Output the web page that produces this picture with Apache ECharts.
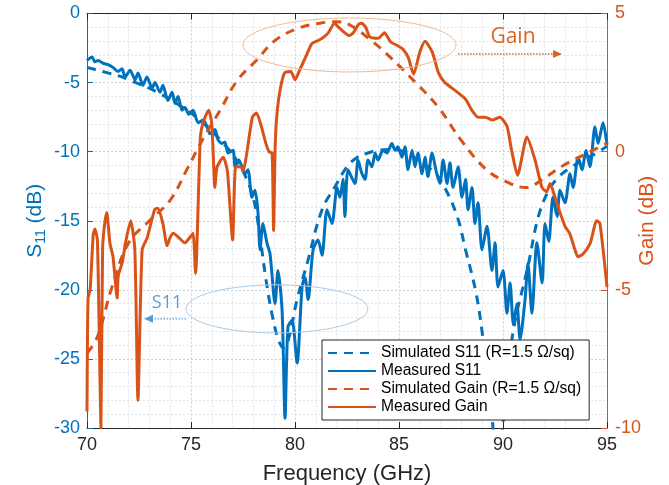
<!DOCTYPE html>
<html><head><meta charset="utf-8">
<script src="https://cdn.jsdelivr.net/npm/echarts@6/dist/echarts.min.js"></script>
<style>html,body{margin:0;padding:0;background:#fff}#c{width:669px;height:485px}</style>
</head><body><div id="c"></div><script>
// ---- data (frequency in GHz, values in dB) ----
const xTicks = [70, 75, 80, 85, 90, 95];
const s11Ticks = [-30, -25, -20, -15, -10, -5, 0];
const gainTicks = [-10, -5, 0, 5];

const simS11 = [
  [70,-3.9],[70.5,-4.1],[71,-4.3],[71.5,-4.5],[72,-4.8],[72.5,-5.1],[73,-5.4],[73.5,-5.8],[74,-6.2],[74.5,-6.7],
  [75,-7.2],[75.5,-7.8],[76,-8.5],[76.5,-9.3],[77,-10.2],[77.5,-11.4],[78,-13.4],[78.3,-16],[78.6,-19.2],[78.9,-21.8],
  [79.2,-23.6],[79.45,-24.2],[79.7,-23.5],[80.1,-20.7],[80.6,-18],[81.3,-14.2],[81.9,-12.6],[82.5,-11.1],[83,-10.4],
  [83.5,-10.1],[84,-9.9],[84.5,-9.85],[85,-9.9],[85.5,-10.2],[86,-10.7],[86.7,-11.5],[87.2,-12.6],[87.8,-14.7],
  [88.2,-17.1],[88.7,-20.2],[89.0,-23.1],[89.4,-28],[89.75,-33],[90.1,-28],[90.5,-22.9],[91.2,-18.3],[91.7,-14.7],
  [92.2,-12.8],[92.7,-11.8],[93.3,-11.1],[94,-10.5],[94.5,-10.1],[95,-9.6]
];
const measS11 = [
  [70,-3.4],[70.24,-3.15],[70.38,-3.5],[70.53,-3.4],[70.77,-3.6],[71.01,-3.7],[71.25,-3.9],[71.49,-4.2],[71.68,-4.0],
  [71.83,-4.6],[72.07,-4.1],[72.31,-4.8],[72.45,-4.3],[72.69,-5.2],[72.88,-4.6],[73.13,-5.4],[73.27,-5.0],[73.51,-5.7],
  [73.65,-5.2],[73.89,-6.3],[74.09,-5.7],[74.23,-6.5],[74.38,-6.0],[74.57,-7.0],[74.71,-6.8],[74.9,-7.3],[75.1,-7.0],
  [75.34,-7.9],[75.58,-7.7],[75.77,-8.2],[75.91,-8.7],[76.15,-8.4],[76.3,-9.15],[76.49,-9.4],[76.63,-9.3],[76.78,-10.1],
  [77.02,-9.9],[77.12,-11.1],[77.3,-10.6],[77.45,-11.1],[77.6,-11.6],[77.74,-11.3],[77.93,-13.3],[78.08,-12.8],
  [78.22,-14.4],[78.32,-17.1],[78.46,-15.2],[78.65,-16.6],[78.8,-17.4],[79.04,-21],[79.18,-18.6],[79.38,-21.5],
  [79.52,-29.3],[79.66,-22.7],[79.86,-22.2],[80.1,-25.3],[80.34,-19.8],[80.48,-19.1],[80.63,-20.7],[80.87,-17.1],
  [81.11,-16.4],[81.3,-17.5],[81.54,-14.2],[81.78,-15.2],[82.02,-12.6],[82.16,-13.3],[82.31,-12.0],[82.4,-14.7],
  [82.55,-11.3],[82.88,-12.3],[83.03,-10.6],[83.2,-11.5],[83.37,-12.0],[83.51,-10.6],[83.7,-11.1],[83.85,-10.1],
  [83.99,-10.6],[84.23,-9.9],[84.42,-10.1],[84.66,-9.4],[84.81,-9.9],[84.95,-9.65],[85.14,-10.4],[85.29,-9.65],
  [85.43,-11.3],[85.63,-9.9],[85.77,-11.1],[85.91,-10.1],[86.11,-11.6],[86.25,-10.4],[86.39,-11.8],[86.59,-10.1],
  [86.8,-11.5],[86.97,-12.3],[87.12,-10.6],[87.31,-12.3],[87.45,-10.8],[87.6,-12.6],[87.84,-11.1],[88.03,-13.3],
  [88.2,-12.0],[88.32,-14.2],[88.51,-12.6],[88.65,-15.2],[88.8,-13.7],[88.99,-17.1],[89.23,-15.4],[89.47,-18.6],
  [89.62,-16.6],[89.76,-19.8],[90.0,-18.6],[90.19,-21.7],[90.34,-19.5],[90.5,-22.5],[90.67,-21.0],[90.82,-23.6],
  [91.06,-20.7],[91.2,-18.1],[91.39,-21.7],[91.63,-16.6],[91.88,-19.5],[92.02,-15.2],[92.2,-16.5],[92.4,-13.3],
  [92.6,-14.7],[92.74,-12.8],[92.98,-13.7],[93.22,-11.6],[93.37,-12.6],[93.61,-10.4],[93.8,-11.3],[93.99,-9.9],
  [94.18,-11.1],[94.42,-8.2],[94.57,-9.4],[94.81,-7.9],[95,-9.5]
];
const simGain = [
  [70,-7.3],[70.5,-6.7],[71.2,-4.9],[72,-3.3],[73,-2.5],[74,-1.75],[74.8,-0.65],[75.6,0.5],[76.4,1.5],[77.2,2.55],
  [78.2,3.35],[79,4.0],[80.1,4.45],[81.2,4.65],[82,4.7],[82.6,4.6],[83.7,4.0],[84.6,3.4],[85.8,2.5],[86.9,1.6],
  [88,0.4],[89.2,-0.65],[90.2,-1.1],[91.1,-1.3],[91.9,-1.0],[92.9,-0.5],[94.2,0.0],[95,0.3]
];
const measGain = [
  [70,-9.4],[70.05,-5.3],[70.15,-5.0],[70.3,-3.0],[70.38,-2.8],[70.5,-3.2],[70.62,-8],[70.67,-10],[70.75,-3.5],
  [70.85,-2.6],[70.95,-2.2],[71.1,-3.3],[71.25,-3.8],[71.45,-5.3],[71.5,-4.5],[71.7,-4.0],[71.85,-3.3],[72.1,-2.5],
  [72.3,-3.55],[72.45,-9.0],[72.65,-3.55],[72.9,-3.1],[73.25,-2.1],[73.4,-2.05],[73.65,-2.6],[73.85,-3.4],[74.0,-3.1],
  [74.15,-2.95],[74.4,-3.1],[74.7,-3.3],[74.95,-3.1],[75.1,-2.95],[75.22,-4.4],[75.45,0.53],[75.6,1.1],[75.85,1.5],
  [76.0,1.0],[76.15,-1.3],[76.25,-0.56],[76.55,-0.2],[76.75,-0.7],[77.0,-3.2],[77.15,-0.55],[77.4,-0.55],[77.5,-0.7],
  [77.95,1.25],[78.15,1.4],[78.35,1.0],[78.6,0.3],[78.75,0.0],[78.9,-0.05],[78.97,-2.85],[79.05,0.3],[79.15,1.5],
  [79.3,2.3],[79.5,2.85],[79.8,2.9],[80.0,2.6],[80.25,3.0],[80.5,3.4],[80.8,3.9],[81.05,4.0],[81.3,4.1],[81.6,4.3],
  [81.9,4.65],[82.1,4.5],[82.4,4.3],[82.6,4.2],[82.8,4.3],[83.05,4.6],[83.2,4.65],[83.4,4.5],[83.6,4.15],[84.0,4.1],
  [84.3,4.3],[84.6,3.97],[84.9,3.85],[85.2,3.7],[85.45,3.4],[85.7,2.8],[86.0,3.6],[86.25,4.0],[86.6,3.6],[86.9,2.85],
  [87.2,2.5],[87.55,2.3],[88.2,1.9],[88.5,1.5],[88.8,1.25],[89.15,1.25],[89.5,1.15],[89.85,1.25],[90.2,0.9],
  [90.4,0.1],[90.7,-0.85],[91.15,0.53],[91.54,-0.3],[91.875,-1.3],[92.1,-1.45],[92.26,-1.15],[92.5,-1.65],
  [92.74,-2.2],[92.98,-2.7],[93.2,-2.95],[93.46,-3.55],[93.6,-3.8],[93.85,-3.7],[94.2,-3.3],[94.5,-2.5],[94.66,-2.6],
  [95,-4.9]
];
const seriesNames = ['Simulated S11 (R=1.5 \u03A9/sq)', 'Measured S11', 'Simulated Gain (R=1.5 \u03A9/sq)', 'Measured Gain'];

// annotation anchors (data units: GHz, S11 dB)
const gainEllipse = {f: 82.62, s: -2.28, rf: 5.12, rs: 1.95};
const gainText = {f: 90.48, s: -1.7, text: 'Gain'};
const gainArrow = {f1: 87.84, f2: 92.84, s: -2.93};
const s11Ellipse = {f: 79.13, s: -21.38, rf: 4.375, rs: 1.74};
const s11Text = {f: 73.85, s: -20.95, text: 'S11'};
const s11Arrow = {f1: 74.76, f2: 72.74, s: -22.1};

const BLUE = '#0072BD', ORANGE = '#D95319', DARK = '#262626';
const FONT = '"Liberation Sans", Arial, Helvetica, sans-serif';

const chart = echarts.init(document.getElementById('c'), null, {renderer: 'canvas'});
const gridMajor = {show: true, lineStyle: {color: '#c9d0d6', type: [2, 2], width: 1}};
const gridMinor = {show: true, lineStyle: {color: '#e0e4e8', type: [2, 2], width: 1}};

chart.setOption({
  animation: false,
  backgroundColor: '#fff',
  grid: {left: 87, right: 62, top: 13.5, bottom: 57, show: false, containLabel: false, outerBoundsMode: 'none'},
  xAxis: [{
    type: 'value', min: xTicks[0], max: xTicks[xTicks.length - 1], interval: 5,
    axisLine: {show: true, onZero: false, lineStyle: {color: DARK, width: 1}},
    axisTick: {show: true, inside: true, length: 6, lineStyle: {color: DARK}},
    minorTick: {show: false, splitNumber: 5},
    axisLabel: {color: DARK, fontSize: 18, fontFamily: FONT, margin: 8},
    splitLine: gridMajor, minorSplitLine: gridMinor,
    name: 'Frequency (GHz)', nameLocation: 'middle', nameGap: 35, nameMoveOverlap: false,
    nameTextStyle: {color: DARK, fontSize: 22, fontFamily: FONT}
  }, {
    type: 'value', position: 'top', min: xTicks[0], max: xTicks[xTicks.length - 1], interval: 5,
    axisLine: {show: true, onZero: false, lineStyle: {color: DARK, width: 1}},
    axisTick: {show: true, inside: true, length: 6, lineStyle: {color: DARK}},
    axisLabel: {show: false}, splitLine: {show: false}
  }],
  yAxis: [{
    type: 'value', position: 'left', min: s11Ticks[0], max: s11Ticks[s11Ticks.length - 1], interval: 5,
    axisLine: {show: true, onZero: false, lineStyle: {color: BLUE, width: 1}},
    axisTick: {show: true, inside: true, length: 6, lineStyle: {color: BLUE}},
    minorTick: {show: false, splitNumber: 5},
    axisLabel: {color: BLUE, fontSize: 18, fontFamily: FONT, margin: 7},
    splitLine: gridMajor, minorSplitLine: gridMinor,
    name: '{a|S}{b|11}{a| (dB)}', nameLocation: 'middle', nameGap: 39, nameRotate: 90, nameMoveOverlap: false,
    nameTextStyle: {color: BLUE, fontFamily: FONT, rich: {
      a: {fontSize: 21, color: BLUE, fontFamily: FONT, lineHeight: 26},
      b: {fontSize: 14, color: BLUE, fontFamily: FONT, lineHeight: 14, verticalAlign: 'bottom'}
    }}
  }, {
    type: 'value', position: 'right', min: gainTicks[0], max: gainTicks[gainTicks.length - 1], interval: 5,
    axisLine: {show: true, onZero: false, lineStyle: {color: ORANGE, width: 1}},
    axisTick: {show: true, inside: true, length: 6, lineStyle: {color: ORANGE}},
    axisLabel: {color: ORANGE, fontSize: 18, fontFamily: FONT, margin: 8},
    splitLine: {show: false},
    name: 'Gain (dB)', nameLocation: 'middle', nameGap: 30, nameRotate: 90, nameMoveOverlap: false,
    nameTextStyle: {color: ORANGE, fontSize: 21, fontFamily: FONT}
  }],
  legend: {
    orient: 'vertical', left: 322, top: 340,
    data: seriesNames,
    itemWidth: 48, itemHeight: 14, itemGap: 2,
    itemStyle: {opacity: 0},
    backgroundColor: '#fff', borderColor: DARK, borderWidth: 1, borderRadius: 0,
    padding: [5, 8, 5, 5],
    textStyle: {color: '#000', fontSize: 15.6, fontFamily: FONT}
  },
  series: [{
    name: seriesNames[0], type: 'line', xAxisIndex: 0, yAxisIndex: 0, data: simS11,
    symbol: 'none', smooth: 0.4, lineStyle: {color: BLUE, width: 3, type: [9, 7]}, itemStyle: {color: BLUE}, z: 3
  }, {
    name: seriesNames[1], type: 'line', xAxisIndex: 0, yAxisIndex: 0, data: measS11,
    symbol: 'none', smooth: 0.25, lineStyle: {color: BLUE, width: 3}, itemStyle: {color: BLUE}, z: 4
  }, {
    name: seriesNames[2], type: 'line', xAxisIndex: 0, yAxisIndex: 1, data: simGain,
    symbol: 'none', smooth: 0.4, lineStyle: {color: ORANGE, width: 3, type: [9, 7]}, itemStyle: {color: ORANGE}, z: 5
  }, {
    name: seriesNames[3], type: 'line', xAxisIndex: 0, yAxisIndex: 1, data: measGain,
    symbol: 'none', smooth: 0.2, lineStyle: {color: ORANGE, width: 3}, itemStyle: {color: ORANGE}, z: 6
  }]
});

function px(f, s) { return chart.convertToPixel({xAxisIndex: 0, yAxisIndex: 0}, [f, s]); }
function ellipse(e, color) {
  const c = px(e.f, e.s), r1 = px(e.f + e.rf, e.s), r2 = px(e.f, e.s + e.rs);
  return {type: 'ellipse', shape: {cx: c[0], cy: c[1], rx: Math.abs(r1[0] - c[0]), ry: Math.abs(r2[1] - c[1])},
    style: {fill: 'none', stroke: color, lineWidth: 1}, z: 20, silent: true};
}
function arrow(a, color) {
  const p1 = px(a.f1, a.s), p2 = px(a.f2, a.s);
  const dir = Math.sign(p2[0] - p1[0]);
  return [{type: 'line', shape: {x1: p1[0], y1: p1[1], x2: p2[0] - dir * 6, y2: p2[1]},
    style: {stroke: color, lineWidth: 1.3, lineDash: [1.5, 1.5]}, z: 20, silent: true},
    {type: 'polygon', shape: {points: [[p2[0], p2[1]], [p2[0] - dir * 9, p2[1] - 4], [p2[0] - dir * 9, p2[1] + 4]]},
    style: {fill: color}, z: 20, silent: true}];
}
function label(t, color, size) {
  const p = px(t.f, t.s);
  return {type: 'text', x: p[0], y: p[1], style: {text: t.text, fill: color, font: size + 'px "Open Sans", "Noto Sans", sans-serif',
    align: 'center', verticalAlign: 'middle'}, z: 20, silent: true};
}
chart.setOption({graphic: [
  ellipse(gainEllipse, '#F0B894'),
  label(gainText, '#D9661F', 21),
  ...arrow(gainArrow, '#D9661F'),
  ellipse(s11Ellipse, '#A9CBEA'),
  label(s11Text, '#5B9BD5', 18),
  ...arrow(s11Arrow, '#5B9BD5')
]});
</script></body></html>
